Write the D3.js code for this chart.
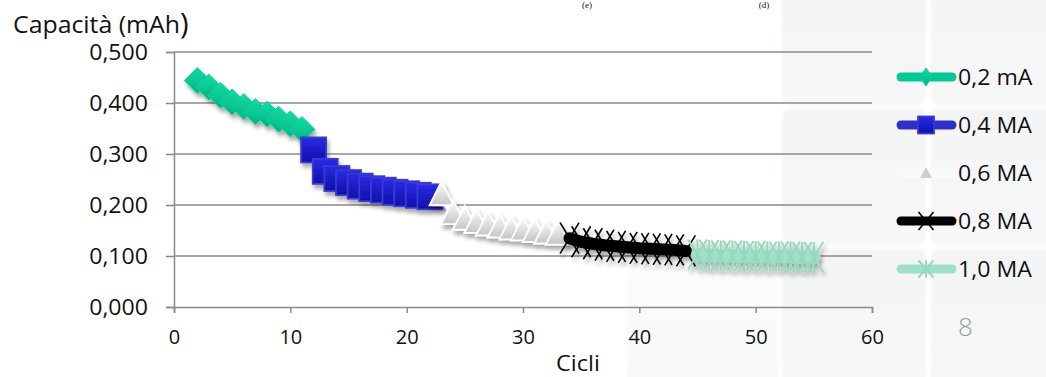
<!DOCTYPE html>
<html>
<head>
<meta charset="utf-8">
<script src="https://cdn.jsdelivr.net/npm/d3@7"></script>
<style>
  html, body { margin: 0; padding: 0; background: #fff; }
  svg { display: block; }
  text { font-family: "Open Sans", "Noto Sans", sans-serif; fill: #111; }
</style>
</head>
<body>
<svg id="chart" width="1046" height="377"></svg>
<script>
// Capacity per cycle at increasing discharge currents
const cycles02 = [2, 3, 4, 5, 6, 7, 8, 9, 10, 11];
const cap02    = [0.444, 0.431, 0.415, 0.402, 0.393, 0.383, 0.378, 0.368, 0.359, 0.348];
const cycles04 = [12, 13, 14, 15, 16, 17, 18, 19, 20, 21, 22];
const cap04    = [0.308, 0.266, 0.252, 0.244, 0.237, 0.232, 0.229, 0.225, 0.222, 0.219, 0.216];
const cycles06 = [23, 24, 25, 26, 27, 28, 29, 30, 31, 32, 33];
const cap06    = [0.223, 0.186, 0.175, 0.169, 0.164, 0.160, 0.156, 0.154, 0.151, 0.148, 0.146];
const cycles08 = [34, 35, 36, 37, 38, 39, 40, 41, 42, 43, 44];
const cap08    = [0.135, 0.128, 0.124, 0.121, 0.119, 0.117, 0.115, 0.114, 0.113, 0.112, 0.110];
const cycles10 = [45, 46, 47, 48, 49, 50, 51, 52, 53, 54, 55];
const cap10    = [0.103, 0.102, 0.101, 0.101, 0.100, 0.100, 0.099, 0.099, 0.099, 0.098, 0.098];

const seriesNames = ["0,2 mA", "0,4 MA", "0,6 MA", "0,8 MA", "1,0 MA"];
const xTicks = [0, 10, 20, 30, 40, 50, 60];
const yTicks = [0, 0.1, 0.2, 0.3, 0.4, 0.5];

const series = [
  { name: seriesNames[0], xs: cycles02, ys: cap02, marker: "diamond",  line: "#00c994", width: 9 },
  { name: seriesNames[1], xs: cycles04, ys: cap04, marker: "square",   line: "#3030c8", width: 9 },
  { name: seriesNames[2], xs: cycles06, ys: cap06, marker: "triangle", line: "#ffffff", width: 9 },
  { name: seriesNames[3], xs: cycles08, ys: cap08, marker: "cross",    line: "#000000", width: 12 },
  { name: seriesNames[4], xs: cycles10, ys: cap10, marker: "star",     line: "#a0e0c8", width: 13 }
];

const svg = d3.select("#chart");
const itLocale = d3.formatLocale({ decimal: ",", thousands: ".", grouping: [3], currency: ["", " €"] });
const fmtY = itLocale.format(".3f");

const x = d3.scaleLinear().domain([0, 60]).range([174, 872]);
const y = d3.scaleLinear().domain([0, 0.5]).range([307, 52]);

// widen glyph runs a little, keeping the anchor point
function stretch(sel, factor) {
  sel.each(function () {
    const w = this.getComputedTextLength();
    d3.select(this).attr("textLength", w * factor).attr("lengthAdjust", "spacingAndGlyphs");
  });
}

// ---- defs: gradients and shadow ----
const defs = svg.append("defs");
function vGrad(id, c0, c1) {
  const g = defs.append("linearGradient").attr("id", id).attr("x1", 0).attr("y1", 0).attr("x2", 0).attr("y2", 1);
  g.append("stop").attr("offset", "0%").attr("stop-color", c0);
  g.append("stop").attr("offset", "100%").attr("stop-color", c1);
}
vGrad("gDiamond", "#12dca6", "#00b483");
vGrad("gSquare", "#2a2ae6", "#0f0fa8");
vGrad("gTri", "#ffffff", "#c4c4c4");
vGrad("gTile", "#f3f4f4", "#f6f7f7");
vGrad("gTileSoft", "#fcfcfc", "#f6f7f7");

const shadow = defs.append("filter").attr("id", "shadow")
  .attr("x", "-20%").attr("y", "-20%").attr("width", "140%").attr("height", "160%");
shadow.append("feGaussianBlur").attr("in", "SourceAlpha").attr("stdDeviation", 2.2).attr("result", "b");
shadow.append("feOffset").attr("in", "b").attr("dx", 2).attr("dy", 4).attr("result", "o");
shadow.append("feComponentTransfer").attr("in", "o").attr("result", "s")
  .append("feFuncA").attr("type", "linear").attr("slope", 0.35);
const merge = shadow.append("feMerge");
merge.append("feMergeNode").attr("in", "s");
merge.append("feMergeNode").attr("in", "SourceGraphic");

const soft = defs.append("filter").attr("id", "soft").attr("x", "-5%").attr("y", "-5%").attr("width", "110%").attr("height", "110%");
soft.append("feGaussianBlur").attr("stdDeviation", 1.5);

// ---- background tiles on the right ----
const tiles = [
  [627, 268, 151, 130, "gTileSoft"],
  [782, -12, 144, 117, "gTile"], [931, -12, 130, 117, "gTile"],
  [782, 109, 144, 136, "gTile"], [931, 109, 130, 136, "gTile"],
  [782, 249, 144, 140, "gTile"], [931, 249, 130, 140, "gTile"]
];
svg.append("g").attr("filter", "url(#soft)")
  .selectAll("rect").data(tiles).join("rect")
  .attr("x", d => d[0]).attr("y", d => d[1]).attr("width", d => d[2]).attr("height", d => d[3])
  .attr("rx", 8).attr("fill", d => `url(#${d[4]})`);

// ---- small captions at the top edge ----
svg.append("text").attr("x", 587).attr("y", 8).attr("text-anchor", "middle")
  .style("font-family", "'Liberation Serif', serif").style("font-size", "9px").text("(e)");
svg.append("text").attr("x", 764).attr("y", 8).attr("text-anchor", "middle")
  .style("font-family", "'Liberation Serif', serif").style("font-size", "9px").text("(d)");

// ---- grid and axes ----
const gridColor = "#8a8a8a";
svg.append("g").selectAll("line").data(yTicks.filter(d => d > 0)).join("line")
  .attr("x1", x(0)).attr("x2", x(60)).attr("y1", d => y(d)).attr("y2", d => y(d))
  .attr("stroke", gridColor).attr("stroke-width", 1.5);

const yAxis = svg.append("g").attr("transform", `translate(${x(0)},0)`)
  .call(d3.axisLeft(y).tickValues(yTicks).tickSize(8).tickPadding(18).tickFormat(fmtY));
yAxis.select(".domain").attr("stroke", gridColor).attr("stroke-width", 1.5);
yAxis.selectAll(".tick line").attr("stroke", gridColor).attr("stroke-width", 1.5);
yAxis.selectAll(".tick text").attr("fill", "#111").style("font-size", "21px")
  .style("font-family", "'Open Sans', sans-serif").attr("dy", "0.36em");
stretch(yAxis.selectAll(".tick text"), 1.1);

const xAxis = svg.append("g").attr("transform", `translate(0,${y(0)})`)
  .call(d3.axisBottom(x).tickValues(xTicks).tickSize(6).tickPadding(17).tickSizeOuter(6));
xAxis.select(".domain").attr("stroke", gridColor).attr("stroke-width", 1.5);
xAxis.selectAll(".tick line").attr("stroke", gridColor).attr("stroke-width", 1.5);
xAxis.selectAll(".tick text").attr("fill", "#111").style("font-size", "20px")
  .style("font-family", "'Open Sans', sans-serif");

// axis titles
const title = svg.append("text").attr("x", 13).attr("y", 33).style("font-size", "23px");
const titleMain = title.append("tspan").text("Capacità (mAh");
title.append("tspan").style("font-size", "29px").attr("dy", 1).text(")");
stretch(titleMain, 1.08);

const xTitle = svg.append("text").attr("x", 578).attr("y", 371).attr("text-anchor", "middle")
  .style("font-size", "21px").text("Cicli");
stretch(xTitle, 1.12);

// ---- marker painters (w = width, h = height) ----
function drawMarker(g, type, cx, cy, w, h) {
  const a = w / 2, b = h / 2;
  switch (type) {
    case "diamond":
      g.append("path").attr("d", `M${cx},${cy - b}L${cx + a},${cy}L${cx},${cy + b}L${cx - a},${cy}Z`)
        .attr("fill", "url(#gDiamond)").attr("stroke", "#0fcf99").attr("stroke-width", 1);
      break;
    case "square":
      g.append("rect").attr("x", cx - a).attr("y", cy - b).attr("width", w).attr("height", h)
        .attr("fill", "url(#gSquare)").attr("stroke", "#3a3ad0").attr("stroke-width", 1.8);
      break;
    case "triangle":
      g.append("path").attr("d", `M${cx},${cy - b}L${cx + a},${cy + b}L${cx - a},${cy + b}Z`)
        .attr("fill", "url(#gTri)").attr("stroke", "#ffffff").attr("stroke-width", 1.8);
      break;
    case "cross":
      g.append("path").attr("d", `M${cx - a},${cy - b}L${cx + a},${cy + b}M${cx + a},${cy - b}L${cx - a},${cy + b}`)
        .attr("stroke", "#000").attr("stroke-width", 1.6).attr("fill", "none");
      break;
    case "star":
      g.append("path").attr("d", `M${cx - a},${cy - b}L${cx + a},${cy + b}M${cx + a},${cy - b}L${cx - a},${cy + b}M${cx},${cy - b}L${cx},${cy + b}`)
        .attr("stroke", "#93dabd").attr("stroke-width", 2).attr("fill", "none");
      break;
  }
}
const markerSize = {
  diamond: [26, 26], square: [25, 25], triangle: [24, 24], cross: [19, 31], star: [19, 30]
};

// ---- series ----
const line = d3.line().x(d => x(d[0])).y(d => y(d[1]));
series.forEach(s => {
  const pts = s.xs.map((c, i) => [c, s.ys[i]]);
  const g = svg.append("g").attr("filter", "url(#shadow)");
  g.append("path").datum(pts).attr("d", line).attr("fill", "none")
    .attr("stroke", s.line).attr("stroke-width", s.width)
    .attr("stroke-linecap", "round").attr("stroke-linejoin", "round");
  const [w, h] = markerSize[s.marker];
  pts.forEach(p => drawMarker(g, s.marker, x(p[0]), y(p[1]), w, h));
});

// ---- legend ----
const legendY = [77, 125, 173, 221, 269];
const legendMarker = {
  diamond: [12, 18], square: [16, 17], triangle: [12, 11], cross: [15, 18], star: [15, 17]
};
const lg = svg.append("g");
series.forEach((s, i) => {
  const yy = legendY[i];
  const row = lg.append("g");
  row.append("line").attr("x1", 901).attr("x2", 952).attr("y1", yy).attr("y2", yy)
    .attr("stroke", s.marker === "triangle" ? "#fafafa" : s.line).attr("stroke-width", 9)
    .attr("stroke-linecap", "round");
  if (s.marker === "triangle") {
    row.append("path").attr("d", `M926,${yy - 6}L932,${yy + 5}L920,${yy + 5}Z`).attr("fill", "#cfcfcf");
  } else {
    const [w, h] = legendMarker[s.marker];
    drawMarker(row, s.marker, 926, yy, w, h);
  }
  const t = row.append("text").attr("x", 958).attr("y", yy).attr("dy", "0.36em")
    .style("font-size", "21px").text(s.name);
  stretch(t, 1.1);
});

// page number
svg.append("text").attr("x", 958).attr("y", 336).style("font-size", "26px")
  .style("font-weight", 300).style("fill", "#9a9a9a").text("8");
</script>
</body>
</html>
